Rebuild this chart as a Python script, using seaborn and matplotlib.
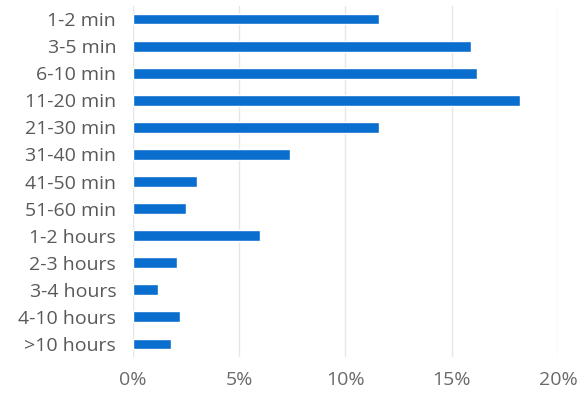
import pandas as pd
import seaborn as sns
import matplotlib.pyplot as plt
from matplotlib.ticker import PercentFormatter

# Share of sessions by duration
durations = ['1-2 min', '3-5 min', '6-10 min', '11-20 min', '21-30 min', '31-40 min',
             '41-50 min', '51-60 min', '1-2 hours', '2-3 hours', '3-4 hours',
             '4-10 hours', '>10 hours']
shares = [11.6, 15.9, 16.2, 18.2, 11.6, 7.4, 3.0, 2.5, 6.0, 2.1, 1.2, 2.2, 1.8]
xticks = [0, 5, 10, 15, 20]

df = pd.DataFrame({'duration': durations, 'share': shares})

sns.set_theme(style='white')
plt.rcParams['font.family'] = ['Open Sans', 'DejaVu Sans']

fig = plt.figure(figsize=(5.8, 3.95), dpi=100)
ax = fig.add_axes([0.229, 0.095, 0.733, 0.891])

sns.barplot(data=df, x='share', y='duration', color='#0a6ecf', saturation=1,
            width=0.4, ax=ax)

ax.set_xlim(0, 20)
ax.set_xticks(xticks)
ax.xaxis.set_major_formatter(PercentFormatter(decimals=0))
ax.grid(axis='x', color='#e6e6e6', linewidth=1)
ax.set_axisbelow(True)
sns.despine(ax=ax, left=True, bottom=True)
ax.set_xlabel('')
ax.set_ylabel('')
ax.tick_params(axis='y', length=0, pad=12, labelsize=14, labelcolor='#595959')
ax.tick_params(axis='x', length=0, pad=10, labelsize=14, labelcolor='#6a6a6a')

fig.savefig('out.png', dpi=100)
